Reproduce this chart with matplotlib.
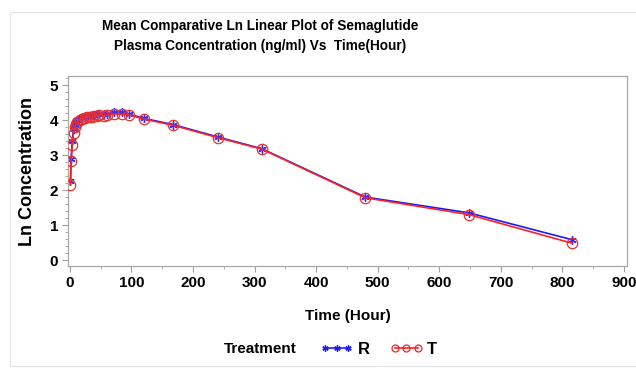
import matplotlib
matplotlib.use('Agg')
import matplotlib.pyplot as plt
from matplotlib.ticker import MultipleLocator
from matplotlib.lines import Line2D

# Mean ln concentration of semaglutide, reference (R) and test (T)
time_h = [1, 2, 4, 6, 8, 10, 12, 16, 20, 24, 28, 32, 36, 40, 44, 48, 56, 60,
          72, 84, 96, 120, 168, 240, 312, 480, 648, 816]
ln_conc_R = [2.25, 2.90, 3.40, 3.75, 3.90, 3.95, 4.00, 4.05, 4.08, 4.10, 4.12, 4.13,
             4.15, 4.15, 4.16, 4.18, 4.17, 4.17, 4.22, 4.22, 4.17, 4.05, 3.87, 3.52,
             3.18, 1.80, 1.35, 0.58]
ln_conc_T = [2.15, 2.82, 3.30, 3.62, 3.80, 3.90, 3.95, 4.00, 4.02, 4.05, 4.08, 4.10,
             4.10, 4.12, 4.12, 4.15, 4.12, 4.14, 4.18, 4.17, 4.15, 4.03, 3.85, 3.50,
             3.17, 1.78, 1.30, 0.48]
treatments = ['R', 'T']

plt.rcParams['font.family'] = ['Liberation Sans', 'DejaVu Sans']
plt.rcParams['font.weight'] = 'bold'

W, H = 636, 374
fig = plt.figure(figsize=(W / 100, H / 100), dpi=100)
ax = fig.add_axes([68 / W, 1 - 266 / H, (627 - 68) / W, (266 - 76) / H])

ax.plot(time_h, ln_conc_R, color='#1a1aff', lw=1.2, marker=(6, 2, 0), ms=6,
        mew=1.0, mec='#3030ff', zorder=2)
ax.plot(time_h, ln_conc_T, color='#ff2020', lw=1.2, marker='o', ms=7.5,
        mfc='none', mew=0.9, mec='#e83030', zorder=3)

ax.set_xlim(-3, 905)
ax.set_ylim(-0.17, 5.26)
ax.xaxis.set_major_locator(MultipleLocator(100))
ax.xaxis.set_minor_locator(MultipleLocator(50))
ax.yaxis.set_major_locator(MultipleLocator(1))
ax.yaxis.set_minor_locator(MultipleLocator(0.2))
for s in ax.spines.values():
    s.set_color('#a8a8a8')
    s.set_linewidth(0.9)
ax.tick_params(which='both', colors='#a0a0a0', labelcolor='black', labelsize=11)
ax.tick_params(which='major', length=4, pad=3)
ax.tick_params(which='minor', length=2.5)

ax.set_xlabel('Time (Hour)', fontsize=11, fontweight='bold', labelpad=14)
ax.set_ylabel('Ln Concentration', fontsize=13, fontweight='bold', labelpad=10)

fig.text(260 / W, 1 - 26 / H, 'Mean Comparative Ln Linear Plot of Semaglutide',
         ha='center', va='center', fontsize=9.8, fontweight='bold')
fig.text(260 / W, 1 - 46 / H, 'Plasma Concentration (ng/ml) Vs  Time(Hour)',
         ha='center', va='center', fontsize=9.8, fontweight='bold')

fig.text(260 / W, 1 - 349 / H, 'Treatment', ha='center', va='center',
         fontsize=11, fontweight='bold')
handles = [Line2D([], [], color='#1a1aff', lw=1.2, marker=(6, 2, 0), ms=4.5, mew=1.0),
           Line2D([], [], color='#ff2020', lw=1.2, marker='o', ms=5, mfc='none', mew=0.9)]
fig.legend(handles, treatments, loc='center left', bbox_to_anchor=(320 / W, 1 - 349 / H),
           ncol=2, frameon=False, numpoints=3, handlelength=2.0, handletextpad=0.25,
           columnspacing=1.2, fontsize=12, borderaxespad=0, borderpad=0)

# faint outer border of the original graph
fig.patches.append(plt.Rectangle((10 / W, 8 / H), 1.2, 1 - 20 / H, transform=fig.transFigure,
                                 fill=False, ec='#e4e4e4', lw=0.8))

fig.savefig('out.png', dpi=100)
